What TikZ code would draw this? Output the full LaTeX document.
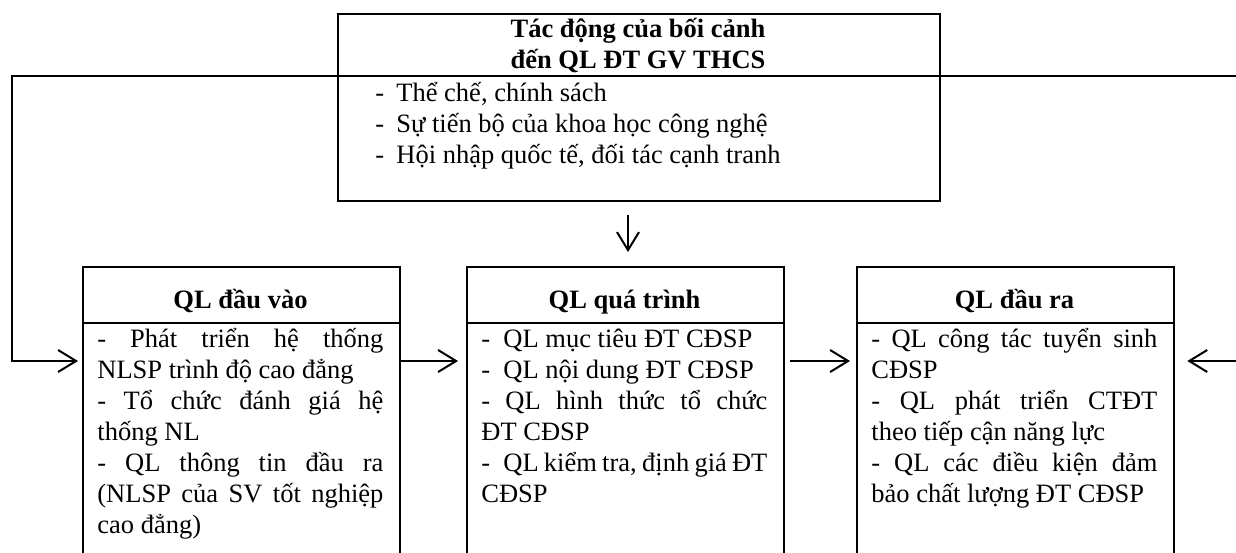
\documentclass[tikz,border=0pt]{standalone}
\usepackage{fontspec}
\setmainfont{Liberation Serif}
\usetikzlibrary{arrows.meta}
\setlength\parindent{0pt}
\hyphenpenalty=10000
\exhyphenpenalty=10000
\newcommand\txtsize{\fontsize{13.25}{15.5}\selectfont}
\newcommand\firstln{\rule{0pt}{13pt}}
\tikzset{every node/.style={font=\txtsize},
  box/.style={draw, line width=1.15pt, anchor=north west, inner sep=0pt, minimum width=158.5pt, minimum height=150pt},
  head/.style={anchor=base, font=\txtsize\bfseries},
  body/.style={anchor=north west, inner sep=0pt, text width=143pt, align=justify},
  rule/.style={line width=1.15pt},
  arr/.style={line width=1pt, -{Straight Barb[length=9pt,width=11pt,line width=1pt]}}}

\begin{document}
\begin{tikzpicture}[x=0.5pt,y=-0.5pt]
   \useasboundingbox (0,0) rectangle (1236,552);
   \clip (0,0) rectangle (1236,552);
   % context on top
   \node[box, minimum width=301pt, minimum height=93.5pt] (ctx) at (337,13) {};
   \coordinate (ctxdiv) at (0,76);
   \draw[rule] (ctx.west |- ctxdiv) -- (ctx.east |- ctxdiv);
   \node[anchor=north, inner sep=0pt, align=center, font=\txtsize\bfseries] (ctxhead) at (638,11)
     {\firstln T\'ac động của bối cảnh\\đến QL ĐT GV THCS};
   \node[anchor=north west, inner sep=0pt, align=left] (ctxbody) at (375,75)
     {\firstln\makebox[10.5pt][l]{-}Thể chế, chính sách\\
      \makebox[10.5pt][l]{-}Sự tiến bộ của khoa học công nghệ\\
      \makebox[10.5pt][l]{-}Hội nhập quốc tế, đối tác cạnh tranh};
   % the three boxes
   \node[box] (in)   at (82,266)  {};
   \node[box] (proc) at (466,266) {};
   \node[box] (out)  at (856,266) {};
   \coordinate (div) at (0,323);
   \draw[rule] (in.west |- div) -- (in.east |- div);
   \draw[rule] (proc.west |- div) -- (proc.east |- div);
   \draw[rule] (out.west |- div) -- (out.east |- div);
   \node[head] (inhead)   at (240.5,308) {QL đầu vào};
   \node[head] (prochead) at (624.5,308) {QL quá trình};
   \node[head] (outhead)  at (1014.5,308) {QL đầu ra};
   \node[body] (inbody) at (97,321)
     {\firstln- Phát triển hệ thống\linebreak NLSP trình độ cao đẳng\par
      - Tổ chức đánh giá hệ\linebreak thống NL\par
      - QL thông tin đầu ra\linebreak (NLSP của SV tốt nghiệp\linebreak cao đẳng)};
   \node[body] (procbody) at (481,321)
     {\firstln-\enspace QL mục tiêu ĐT CĐSP\par
      -\enspace QL nội dung ĐT CĐSP\par
      - QL hình thức tổ chức\linebreak ĐT CĐSP\par
      -\enspace QL kiểm tra, định giá ĐT\linebreak CĐSP};
   \node[body] (outbody) at (871,321)
     {\firstln- QL công tác tuyển sinh\linebreak CĐSP\par
      - QL phát triển CTĐT\linebreak theo tiếp cận năng lực\par
      - QL các điều kiện đảm\linebreak bảo chất lượng ĐT CĐSP};
   % connectors
   \coordinate (lane) at (0,361);
   \coordinate (rightend) at (1236,361);
   \coordinate (topend) at (1236,76);
   \coordinate (down) at (628,0);
   \draw[arr, shorten >=2pt] (ctx.west |- ctxdiv) -- (12,76) |- (in.west |- lane);
   \draw[rule, line width=1pt] (ctx.east |- ctxdiv) -- (topend);
   \draw[arr, shorten >=4pt] (in.east |- lane) -- (proc.west |- lane);
   \draw[arr, shorten <=2.5pt, shorten >=3pt] (proc.east |- lane) -- (out.west |- lane);
   \draw[arr, shorten >=6pt] (rightend) -- (out.east |- lane);
   \draw[arr, shorten <=6.5pt, shorten >=7pt] (down |- ctx.south) -- (down |- proc.north);
\end{tikzpicture}
\end{document}
